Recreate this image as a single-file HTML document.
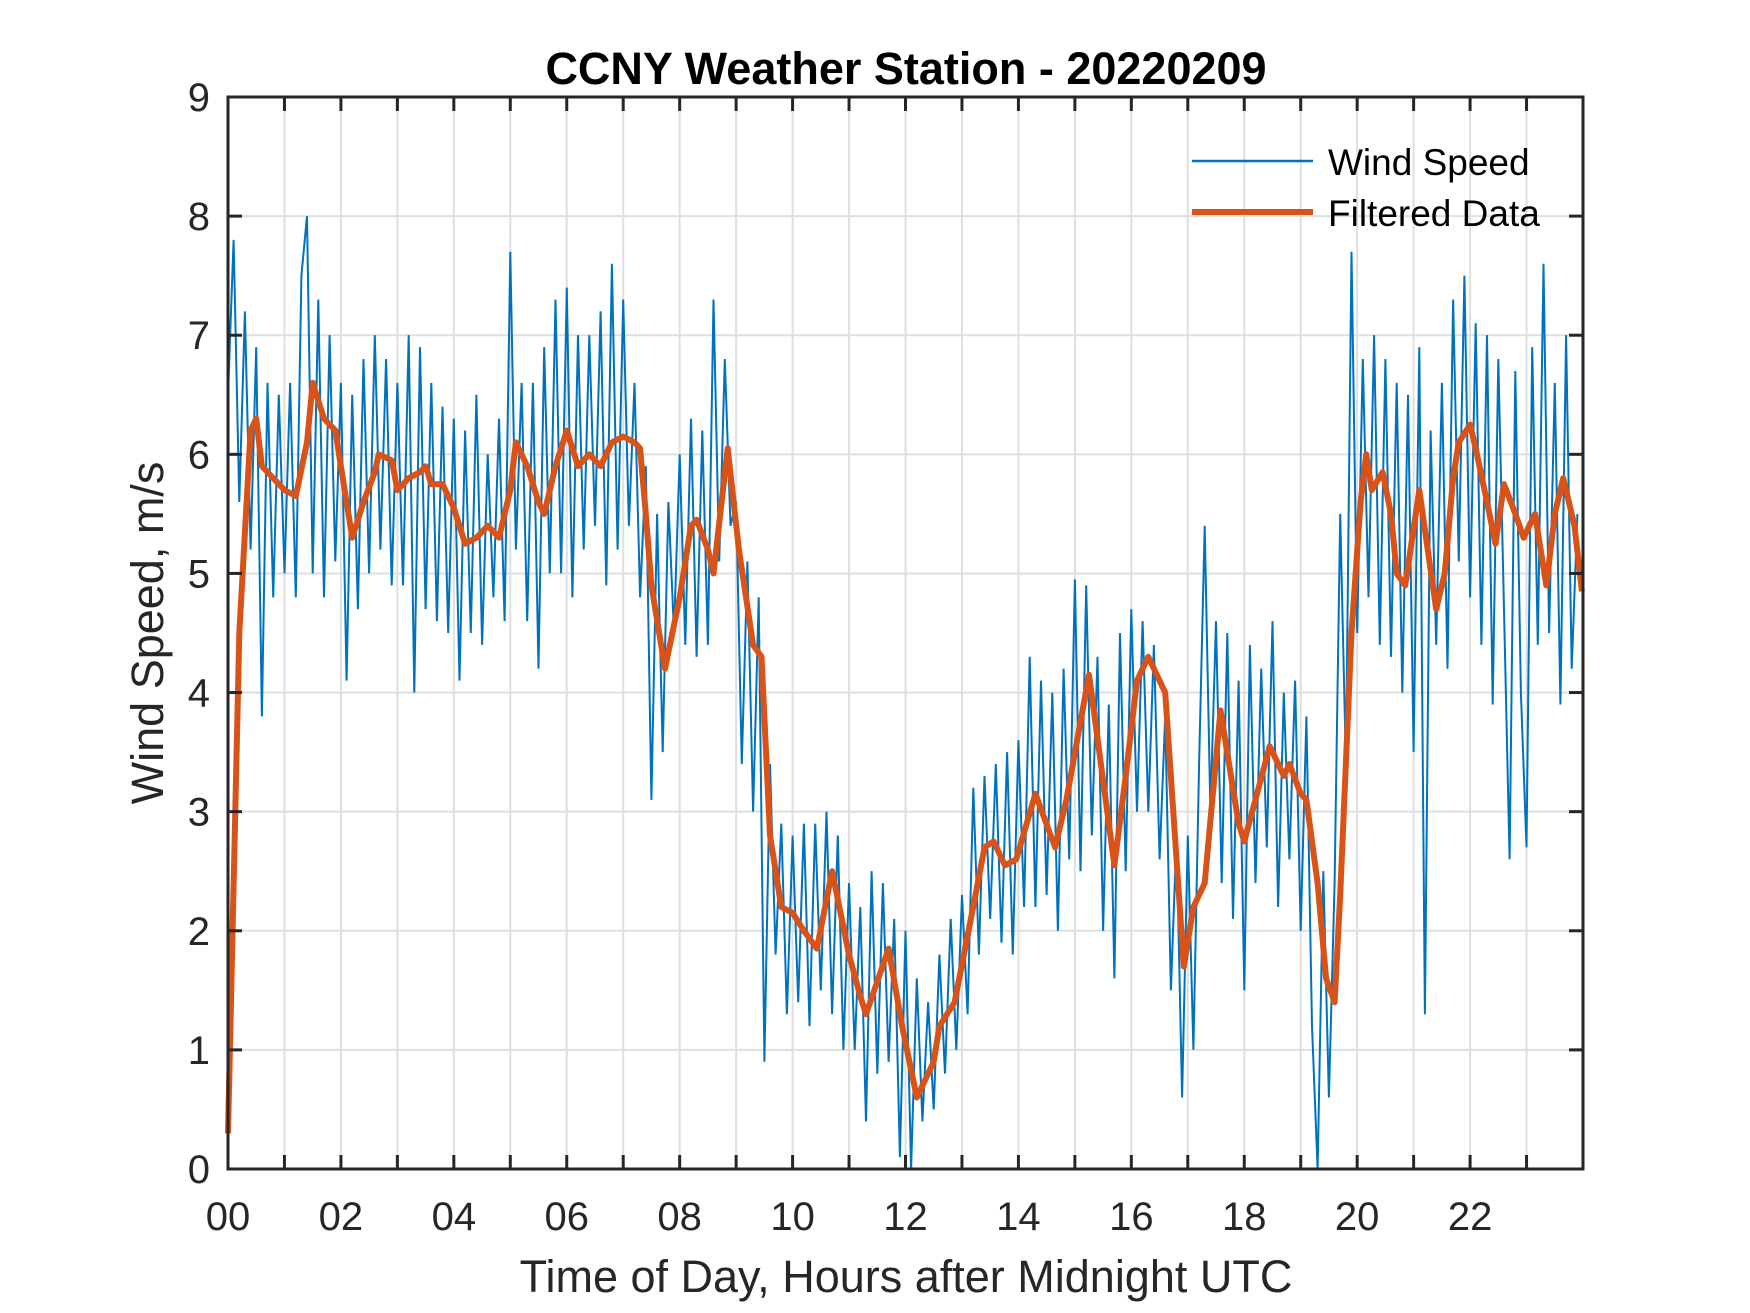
<!DOCTYPE html>
<html><head><meta charset="utf-8"><style>
html,body{margin:0;padding:0;background:#fff;}
svg{display:block;font-family:"Liberation Sans",Arial,sans-serif;}
</style></head><body>
<svg id="chart" width="1750" height="1313" viewBox="0 0 1750 1313" xmlns="http://www.w3.org/2000/svg">
<rect width="1750" height="1313" fill="#fff"/>
<g id="grid"></g>
<g id="series"></g>
<g id="axes"></g>
<text x="906" y="84" text-anchor="middle" font-size="45" font-weight="bold" fill="#000">CCNY Weather Station - 20220209</text>
<text x="906" y="1292" text-anchor="middle" font-size="45" fill="#262626">Time of Day, Hours after Midnight UTC</text>
<text transform="translate(163,633) rotate(-90)" text-anchor="middle" font-size="45" fill="#262626">Wind Speed, m/s</text>
<g>
<line x1="1192" y1="161" x2="1313" y2="161" stroke="#0072BD" stroke-width="2.5"/>
<text x="1328" y="175" font-size="37" fill="#000">Wind Speed</text>
<line x1="1192" y1="212" x2="1313" y2="212" stroke="#D95319" stroke-width="6"/>
<text x="1328" y="226" font-size="37" fill="#000">Filtered Data</text>
</g>
</svg>
<script>
const xTicks = [0,2,4,6,8,10,12,14,16,18,20,22];
const xTickLabels = ["00","02","04","06","08","10","12","14","16","18","20","22"];
const yTicks = [0,1,2,3,4,5,6,7,8,9];
const rawStep = 0.1;
const rawValues = [
6.5,7.8,5.6,7.2,5.2,6.9,3.8,6.6,4.8,6.5,
5.0,6.6,4.8,7.5,8.0,5.0,7.3,4.8,7.0,5.1,
6.6,4.1,6.5,4.7,6.8,5.0,7.0,5.2,6.8,4.9,
6.6,4.9,7.0,4.0,6.9,4.7,6.6,4.6,6.4,4.5,
6.3,4.1,6.2,4.5,6.5,4.4,6.0,4.8,6.3,4.6,
7.7,5.2,6.6,4.6,6.6,4.2,6.9,5.0,7.3,5.0,
7.4,4.8,7.0,5.2,7.0,5.4,7.2,4.9,7.6,5.2,
7.3,5.4,6.6,4.8,5.9,3.1,5.5,3.5,5.6,4.5,
6.0,4.4,6.3,4.3,6.2,4.4,7.3,5.1,6.8,5.4,
5.6,3.4,5.1,3.0,4.8,0.9,3.4,1.8,2.9,1.3,
2.8,1.4,2.9,1.2,2.9,1.5,3.0,1.3,2.8,1.0,
2.4,1.0,2.2,0.4,2.5,0.8,2.4,0.9,2.1,0.1,
2.0,0.0,1.6,0.4,1.4,0.5,1.8,0.8,2.1,1.0,
2.3,1.3,3.2,1.8,3.3,2.1,3.4,1.9,3.5,1.8,
3.6,2.2,4.3,2.2,4.1,2.3,4.0,2.0,4.2,2.6,
4.95,2.5,4.9,2.8,4.3,2.0,3.9,1.6,4.5,2.5,
4.7,3.0,4.6,3.0,4.4,2.6,3.8,1.5,2.8,0.6,
2.8,1.0,3.4,5.4,3.0,4.6,2.4,4.5,2.1,4.1,
1.5,4.4,2.4,4.2,2.7,4.6,2.2,4.0,2.6,4.1,
2.0,3.8,1.2,0.0,2.5,0.6,2.4,5.5,3.4,7.7,
4.5,6.8,4.8,7.0,4.4,6.8,4.3,6.6,4.0,6.5,
3.5,6.9,1.3,6.2,4.4,6.6,4.2,7.3,5.1,7.5,
4.8,7.1,4.4,7.0,3.9,6.8,4.7,2.6,6.7,4.0,
2.7,6.9,4.4,7.6,4.5,6.6,3.9,7.0,4.2,5.5
];
const filtHours = [0,0.2,0.4,0.5,0.6,0.8,1.0,1.2,1.4,1.5,1.7,1.9,2.0,2.2,2.4,2.6,2.67,2.9,3.0,3.2,3.4,3.5,3.6,3.8,4.0,4.2,4.4,4.6,4.8,5.0,5.1,5.3,5.5,5.6,5.8,6.0,6.2,6.4,6.6,6.8,7.0,7.2,7.3,7.4,7.5,7.74,8.0,8.2,8.3,8.5,8.6,8.85,9.05,9.3,9.45,9.6,9.8,10.0,10.2,10.43,10.7,11.0,11.2,11.3,11.7,11.94,12.2,12.5,12.6,12.87,13.2,13.4,13.56,13.76,13.96,14.3,14.65,14.85,15.25,15.7,15.9,16.1,16.3,16.6,16.93,17.1,17.3,17.58,17.9,18.0,18.45,18.7,18.8,19.0,19.1,19.3,19.45,19.6,19.7,19.9,20.06,20.16,20.26,20.45,20.6,20.7,20.85,21.1,21.25,21.4,21.55,21.7,21.8,22.0,22.1,22.3,22.45,22.6,22.8,22.95,23.15,23.35,23.5,23.65,23.85,23.98];
const filtValues = [0.3,4.5,6.2,6.3,5.9,5.8,5.7,5.65,6.1,6.6,6.3,6.2,5.9,5.3,5.6,5.85,6.0,5.95,5.7,5.8,5.85,5.9,5.75,5.75,5.55,5.25,5.3,5.4,5.3,5.7,6.1,5.9,5.6,5.5,5.9,6.2,5.9,6.0,5.9,6.1,6.15,6.1,6.05,5.5,4.9,4.2,4.8,5.4,5.45,5.2,5.0,6.05,5.2,4.4,4.3,2.8,2.2,2.15,2.0,1.85,2.5,1.8,1.45,1.3,1.85,1.2,0.6,0.9,1.2,1.4,2.2,2.7,2.75,2.55,2.6,3.15,2.7,3.1,4.15,2.55,3.3,4.1,4.3,4.0,1.7,2.2,2.4,3.85,2.9,2.75,3.55,3.3,3.4,3.15,3.1,2.4,1.6,1.4,2.3,4.5,5.6,6.0,5.7,5.85,5.5,5.0,4.9,5.7,5.2,4.7,5.0,5.8,6.1,6.25,6.05,5.6,5.25,5.75,5.5,5.3,5.5,4.9,5.5,5.8,5.4,4.85];

const L=228,R=1583,T=97,B=1169,XMAX=24,YMAX=9;
function xs(h){return L+h/XMAX*(R-L);}
function ys(v){return B-v/YMAX*(B-T);}
const NS="http://www.w3.org/2000/svg";
function mk(tag,parent,attrs){const e=document.createElementNS(NS,tag);for(const k in attrs)e.setAttribute(k,attrs[k]);parent.appendChild(e);return e;}
const grid=document.getElementById('grid'),axes=document.getElementById('axes'),series=document.getElementById('series');
for(let h=1;h<24;h++){
  const g=mk('line',grid,{x1:xs(h),x2:xs(h),y1:T,y2:B,stroke:'#dfdfdf','stroke-width':2});
  
  
  [[B,B-14],[T,T+14]].forEach(p=>{const t=mk('line',axes,{x1:xs(h),x2:xs(h),y1:p[0],y2:p[1],stroke:'#262626','stroke-width':3});
    
    });
}
xTicks.forEach((h,i)=>{const t=mk('text',axes,{x:xs(h),y:1230,'text-anchor':'middle','font-size':40,fill:'#262626'});t.textContent=xTickLabels[i];
  
  });
yTicks.forEach(v=>{
  if(v>0&&v<9){const g=mk('line',grid,{x1:L,x2:R,y1:ys(v),y2:ys(v),stroke:'#dfdfdf','stroke-width':2});
    
    }
  [[L,L+14],[R,R-14]].forEach(p=>{const t=mk('line',axes,{x1:p[0],x2:p[1],y1:ys(v),y2:ys(v),stroke:'#262626','stroke-width':3});
    
    });
  const t=mk('text',axes,{x:L-18,y:ys(v)+14,'text-anchor':'end','font-size':40,fill:'#262626'});t.textContent=v;
  
  
});
const box=mk('rect',axes,{x:L,y:T,width:R-L,height:B-T,fill:'none',stroke:'#262626','stroke-width':3});


const rawPts=rawValues.map((v,i)=>xs(i*rawStep).toFixed(1)+','+ys(v).toFixed(1)).join(' ');
const raw=mk('polyline',series,{points:rawPts,fill:'none',stroke:'#0072BD','stroke-width':2,'stroke-linejoin':'miter'});


const fPts=filtHours.map((h,i)=>xs(h).toFixed(1)+','+ys(filtValues[i]).toFixed(1)).join(' ');
const filt=mk('polyline',series,{points:fPts,fill:'none',stroke:'#D95319','stroke-width':6,'stroke-linejoin':'round'});


</script>
</body></html>
